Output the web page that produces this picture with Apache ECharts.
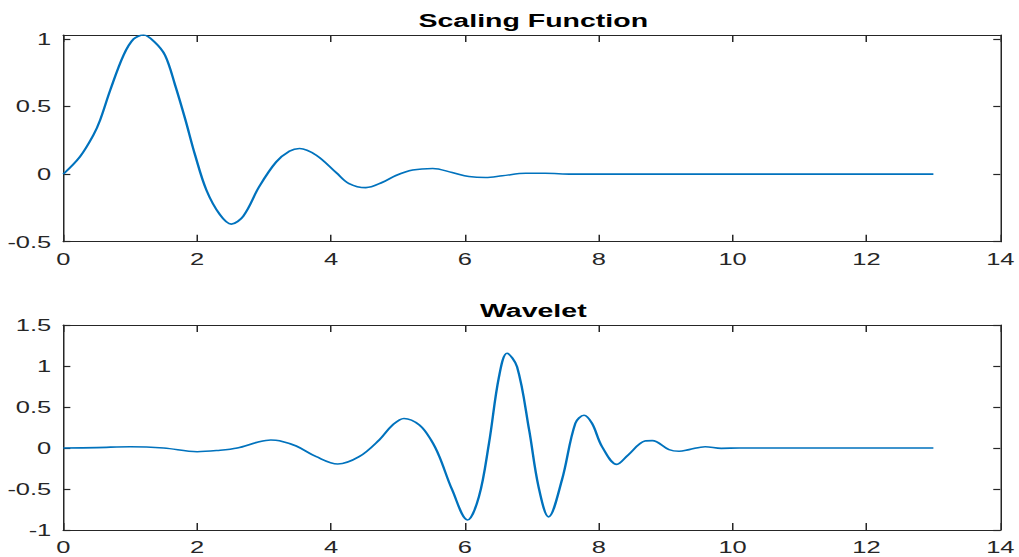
<!DOCTYPE html>
<html>
<head>
<meta charset="utf-8">
<script src="https://cdn.jsdelivr.net/npm/echarts@6/dist/echarts.min.js"></script>
<style>
html,body{margin:0;padding:0;background:#fff;overflow:hidden;}
#wrap{width:1019px;height:557px;overflow:hidden;position:relative;}
#chart{position:absolute;left:0;top:0;width:679.333px;height:557px;transform:scaleX(1.5);transform-origin:0 0;}
</style>
</head>
<body>
<div id="wrap"><div id="chart"></div></div>
<script>
// ---- data ----
const titles = ['Scaling Function', 'Wavelet'];
const xTicks = [0, 2, 4, 6, 8, 10, 12, 14];
const yTicksTop = [-0.5, 0, 0.5, 1];
const yTicksBottom = [-1, -0.5, 0, 0.5, 1, 1.5];

const phiX = [0,0.25,0.45,0.55,0.7,0.9,1.05,1.2,1.36,1.52,1.67,1.82,1.97,2.14,2.34,2.51,2.69,2.93,3.18,3.38,3.53,3.78,4.08,4.27,4.52,4.77,4.97,5.22,5.52,5.81,6.06,6.31,6.56,6.91,7.2,7.6,8,9,10,11,12,13];
const phiY = [0,0.13,0.29,0.4,0.62,0.88,1.0,1.03,0.98,0.88,0.66,0.41,0.14,-0.12,-0.3,-0.37,-0.31,-0.09,0.09,0.17,0.19,0.14,0.01,-0.07,-0.1,-0.06,-0.01,0.03,0.042,0.012,-0.017,-0.025,-0.012,0.007,0.007,0,0,0,0,0,0,0];

const psiX = [0,0.5,1,1.5,2,2.3,2.6,2.9,3.1,3.23,3.48,3.78,4.1,4.42,4.72,4.92,5.09,5.32,5.5,5.62,5.81,6.04,6.21,6.36,6.51,6.63,6.78,6.96,7.1,7.25,7.45,7.65,7.78,7.9,8.05,8.27,8.44,8.69,8.8,9.05,9.2,9.35,9.59,9.83,10.1,11,12,13];
const psiY = [0,0.005,0.016,0,-0.045,-0.03,0,0.07,0.098,0.089,0.024,-0.106,-0.195,-0.106,0.098,0.28,0.36,0.28,0.09,-0.106,-0.51,-0.878,-0.594,0.057,0.87,1.155,0.99,0.22,-0.47,-0.84,-0.39,0.3,0.4,0.3,0.016,-0.2,-0.085,0.085,0.09,-0.02,-0.04,-0.02,0.016,-0.004,0,0,0,0];

// ---- chart ----
const axisColor = '#262626';
const lineColor = '#0072BD';
const font = 'Liberation Sans, Arial, Helvetica, sans-serif';

function pairs(xs, ys){ return xs.map((x,i)=>[x, ys[i]]); }

function xAx(gi, pos, showLabel){
  return {
    type:'value', gridIndex:gi, position:pos, min:xTicks[0], max:xTicks[xTicks.length-1], interval:2,
    axisLine:{show:true, onZero:false, lineStyle:{color:axisColor, width:1.2}},
    axisTick:{show:true, inside:true, length:7, customValues:xTicks, lineStyle:{color:axisColor, width:1}},
    axisLabel:{show:showLabel, color:axisColor, fontSize:17, fontFamily:font, margin:9, customValues:xTicks},
    splitLine:{show:false}
  };
}
function yAx(gi, pos, showLabel, mn, mx, ticks){
  return {
    type:'value', gridIndex:gi, position:pos, min:mn, max:mx,
    axisLine:{show:true, onZero:false, lineStyle:{color:axisColor, width:1}},
    axisTick:{show:true, inside:true, length:4.7, customValues:ticks, lineStyle:{color:axisColor, width:1.2}},
    axisLabel:{show:showLabel, color:axisColor, fontSize:17, fontFamily:font, margin:8, customValues:ticks},
    splitLine:{show:false}
  };
}

const gridLeft = 42.2, gridRight = 10.47;
const plotCenter = (42.2 + (679.333 - 10.47)) / 2;

const chart = echarts.init(document.getElementById('chart'), null, {renderer:'svg', width:679.333, height:557});
chart.setOption({
  backgroundColor:'#ffffff',
  animation:false,
  title:[
    {text:titles[0], left:plotCenter, top:11, textAlign:'center', padding:0,
     textStyle:{fontFamily:font, fontSize:19, fontWeight:'bold', color:'#000'}},
    {text:titles[1], left:plotCenter, top:301, textAlign:'center', padding:0,
     textStyle:{fontFamily:font, fontSize:19, fontWeight:'bold', color:'#000'}}
  ],
  grid:[
    {left:gridLeft, right:gridRight, top:35, height:206.7},
    {left:gridLeft, right:gridRight, top:325, height:205}
  ],
  xAxis:[ xAx(0,'bottom',true), xAx(0,'top',false), xAx(1,'bottom',true), xAx(1,'top',false) ],
  yAxis:[
    yAx(0,'left',true,-0.5,1.03,yTicksTop), yAx(0,'right',false,-0.5,1.03,yTicksTop),
    yAx(1,'left',true,yTicksBottom[0],yTicksBottom[yTicksBottom.length-1],yTicksBottom),
    yAx(1,'right',false,yTicksBottom[0],yTicksBottom[yTicksBottom.length-1],yTicksBottom)
  ],
  series:[
    {type:'line', xAxisIndex:0, yAxisIndex:0, data:pairs(phiX,phiY), showSymbol:false, smooth:0.35,
     lineStyle:{color:lineColor, width:1.6}, itemStyle:{color:lineColor}},
    {type:'line', xAxisIndex:2, yAxisIndex:2, data:pairs(psiX,psiY), showSymbol:false, smooth:0.35,
     lineStyle:{color:lineColor, width:1.6}, itemStyle:{color:lineColor}}
  ]
});
</script>
</body>
</html>
